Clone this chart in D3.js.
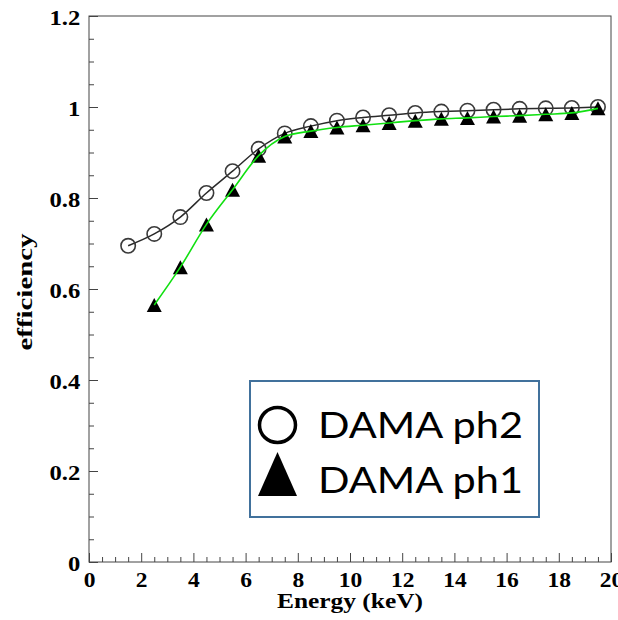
<!DOCTYPE html>
<html>
<head>
<meta charset="utf-8">
<script src="https://cdn.jsdelivr.net/npm/d3@7"></script>
<style>
  html, body { margin: 0; padding: 0; background: #fff; }
  svg { display: block; }
</style>
</head>
<body>
<svg id="chart" width="618" height="620"></svg>
<script>
// Efficiency vs energy for two DAMA phases
const energyPh2 = [1.5, 2.5, 3.5, 4.5, 5.5, 6.5, 7.5, 8.5, 9.5, 10.5, 11.5, 12.5, 13.5, 14.5, 15.5, 16.5, 17.5, 18.5, 19.5];
const effPh2 = [0.695, 0.721, 0.758, 0.811, 0.859, 0.908, 0.942, 0.958, 0.970, 0.977, 0.982, 0.987, 0.990, 0.992, 0.994, 0.996, 0.997, 0.998, 1.000];

const energyPh1 = [2.5, 3.5, 4.5, 5.5, 6.5, 7.5, 8.5, 9.5, 10.5, 11.5, 12.5, 13.5, 14.5, 15.5, 16.5, 17.5, 18.5, 19.5];
const effPh1 = [0.565, 0.648, 0.742, 0.818, 0.893, 0.935, 0.947, 0.955, 0.960, 0.965, 0.970, 0.974, 0.976, 0.979, 0.981, 0.984, 0.987, 0.997];

const xTicks = [0, 2, 4, 6, 8, 10, 12, 14, 16, 18, 20];
const yTicks = [0, 0.2, 0.4, 0.6, 0.8, 1, 1.2];
const legendLabels = ["DAMA ph2", "DAMA ph1"];

const svg = d3.select("#chart");
const x = d3.scaleLinear().domain([0, 20]).range([89, 611]);
const y = d3.scaleLinear().domain([0, 1.2]).range([562, 16]);

const serif = "'Liberation Serif', 'Times New Roman', serif";
const stretch = 1.12;
const frameColor = "#444";

// frame
svg.append("rect")
  .attr("x", x(0)).attr("y", y(1.2))
  .attr("width", x(20) - x(0)).attr("height", y(0) - y(1.2))
  .attr("fill", "none").attr("stroke", frameColor).attr("stroke-width", 1);

// minor ticks
const xMinor = d3.range(0, 20.001, 0.5).filter(v => Math.abs(v % 2) > 1e-6);
const yMinor = d3.range(0, 1.2001, 0.05).filter(v => Math.abs((v / 0.2) - Math.round(v / 0.2)) > 1e-6);

const xMinorAxis = svg.append("g").attr("transform", `translate(0,${y(0)})`)
  .call(d3.axisBottom(x).tickValues(xMinor).tickSize(-5).tickFormat(""));
const yMinorAxis = svg.append("g").attr("transform", `translate(${x(0)},0)`)
  .call(d3.axisLeft(y).tickValues(yMinor).tickSize(-5).tickFormat(""));

// major ticks + labels
const xAxis = svg.append("g").attr("transform", `translate(0,${y(0)})`)
  .call(d3.axisBottom(x).tickValues(xTicks).tickSize(-9).tickFormat(d3.format("d")));
const yAxis = svg.append("g").attr("transform", `translate(${x(0)},0)`)
  .call(d3.axisLeft(y).tickValues(yTicks).tickSize(-9).tickPadding(7).tickFormat(d => String(+d.toFixed(1))));

[xMinorAxis, yMinorAxis, xAxis, yAxis].forEach(g => {
  g.select(".domain").remove();
  g.selectAll(".tick line").attr("stroke", frameColor);
});

xAxis.selectAll("text")
  .attr("y", 25).attr("dy", 0)
  .attr("font-family", serif).attr("font-weight", "bold").attr("font-size", 21)
  .attr("fill", "#000")
  .attr("transform", `scale(${stretch},1)`);

yAxis.selectAll("text")
  .attr("dy", 8.5)
  .attr("font-family", serif).attr("font-weight", "bold").attr("font-size", 22)
  .attr("fill", "#000")
  .attr("transform", `translate(${-7 * (stretch - 1)},0) scale(${stretch},1)`);

// axis titles
svg.append("text")
  .attr("x", x(10)).attr("y", 608)
  .attr("text-anchor", "middle")
  .attr("font-family", serif).attr("font-weight", "bold").attr("font-size", 20)
  .attr("textLength", 146).attr("lengthAdjust", "spacingAndGlyphs")
  .text("Energy (keV)");

svg.append("text")
  .attr("transform", "translate(32,292) rotate(-90)")
  .attr("text-anchor", "middle")
  .attr("font-family", serif).attr("font-weight", "bold").attr("font-size", 22)
  .attr("textLength", 117).attr("lengthAdjust", "spacingAndGlyphs")
  .text("efficiency");

// series
const ph2 = energyPh2.map((e, i) => [e, effPh2[i]]);
const ph1 = energyPh1.map((e, i) => [e, effPh1[i]]);
const line = d3.line().x(d => x(d[0])).y(d => y(d[1])).curve(d3.curveMonotoneX);

svg.append("path").datum(ph2)
  .attr("d", line).attr("fill", "none")
  .attr("stroke", "#2a2a2a").attr("stroke-width", 1.5);

svg.append("g").selectAll("circle").data(ph2).join("circle")
  .attr("cx", d => x(d[0])).attr("cy", d => y(d[1])).attr("r", 7.2)
  .attr("fill", "none").attr("stroke", "#3a3a3a").attr("stroke-width", 1.6);

const tri = (w, h) => `M0,${-h / 2}L${w / 2},${h / 2}L${-w / 2},${h / 2}Z`;
svg.append("g").selectAll("path").data(ph1).join("path")
  .attr("transform", d => `translate(${x(d[0])},${y(d[1])})`)
  .attr("d", tri(15, 14)).attr("fill", "#000");

svg.append("path").datum(ph1)
  .attr("d", line).attr("fill", "none")
  .attr("stroke", "#11e011").attr("stroke-width", 1.6);

// legend
const lg = svg.append("g");
lg.append("rect")
  .attr("x", 250).attr("y", 381).attr("width", 289).attr("height", 136)
  .attr("fill", "#fff").attr("stroke", "#41719c").attr("stroke-width", 2);

lg.append("ellipse")
  .attr("cx", 277.5).attr("cy", 425).attr("rx", 18).attr("ry", 17.5)
  .attr("fill", "none").attr("stroke", "#000").attr("stroke-width", 3.5);
lg.append("path")
  .attr("d", "M277.5,452L297,496L258,496Z").attr("fill", "#000");

const sans = "Lato, 'Open Sans', 'Liberation Sans', sans-serif";
lg.selectAll("text.leg").data(legendLabels).join("text")
  .attr("class", "leg")
  .attr("x", 318).attr("y", (d, i) => 438 + i * 55)
  .attr("font-family", sans).attr("font-size", 36)
  .attr("textLength", 205).attr("lengthAdjust", "spacingAndGlyphs")
  .attr("fill", "#000")
  .text(d => d);
</script>
</body>
</html>
